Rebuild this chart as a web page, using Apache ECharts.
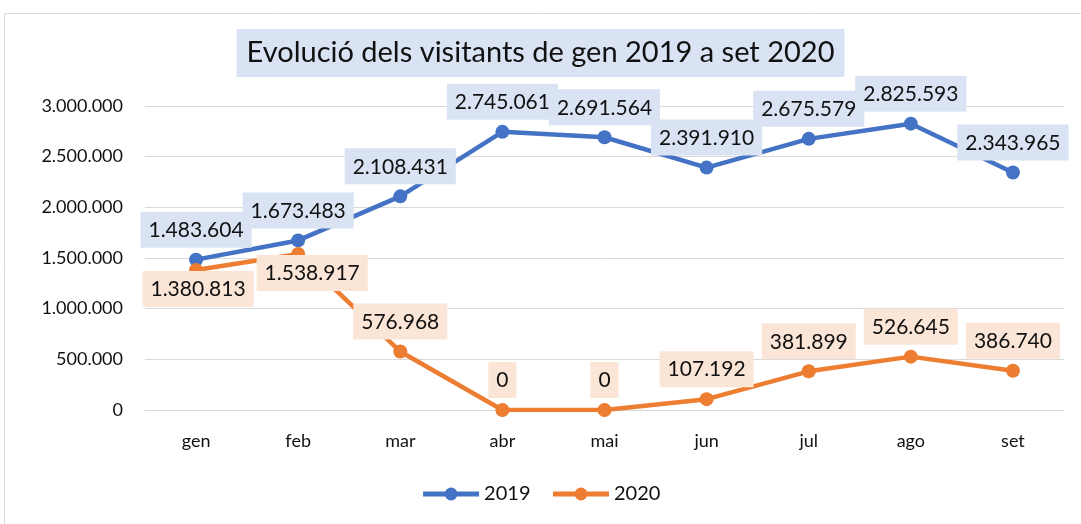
<!DOCTYPE html>
<html>
<head>
<meta charset="utf-8">
<script src="https://cdn.jsdelivr.net/npm/echarts@6/dist/echarts.min.js"></script>
<style>
  html, body { margin: 0; padding: 0; background: #fff; }
  #line_chart { width: 1081px; height: 524px; }
</style>
</head>
<body>
<div id="line_chart"></div>
<script>
var months = ['gen', 'feb', 'mar', 'abr', 'mai', 'jun', 'jul', 'ago', 'set'];
var visits2019 = [1483604, 1673483, 2108431, 2745061, 2691564, 2391910, 2675579, 2825593, 2343965];
var visits2020 = [1380813, 1538917, 576968, 0, 0, 107192, 381899, 526645, 386740];
var yTicks = [0, 500000, 1000000, 1500000, 2000000, 2500000, 3000000];

// separador de milers amb punt
function fmt(v) {
    return String(v).replace(/\B(?=(\d{3})+(?!\d))/g, '.');
}

var font = 'Lato, "Noto Sans", sans-serif';

function lbl(bg) {
    return {
        show: true,
        position: 'top',
        distance: 5,
        fontFamily: font,
        fontSize: 21,
        color: '#111',
        backgroundColor: bg,
        padding: [8, 8, 7, 8],
        formatter: function (p) { return fmt(p.value); }
    };
}

var chart = echarts.init(document.getElementById('line_chart'));
var option = {
    animation: false,
    textStyle: { fontFamily: font },
    graphic: [{
        type: 'rect',
        shape: { x: 4.5, y: 13.5, width: 1090, height: 530 },
        style: { fill: 'none', stroke: '#d9d9d9', lineWidth: 1 },
        silent: true
    }],
    title: {
        text: 'Evolució dels visitants de gen 2019 a set 2020',
        left: 'center',
        top: 29,
        padding: [9, 10, 10, 10],
        backgroundColor: '#dae3f3',
        textStyle: { fontFamily: font, fontSize: 29, fontWeight: 'normal', color: '#111' }
    },
    legend: {
        bottom: 15,
        left: 'center',
        itemWidth: 56,
        itemHeight: 16,
        itemGap: 20,
        lineStyle: { width: 5 },
        textStyle: { fontFamily: font, fontSize: 20, color: '#111' },
        data: ['2019', '2020']
    },
    grid: { left: 145, right: 17, top: 106, bottom: 114 },
    xAxis: {
        type: 'category',
        boundaryGap: true,
        data: months,
        axisLine: { lineStyle: { color: '#d9d9d9', width: 1 } },
        axisTick: { show: false },
        axisLabel: { margin: 22, fontSize: 18, color: '#111', fontFamily: font }
    },
    yAxis: {
        type: 'value',
        min: yTicks[0],
        max: yTicks[yTicks.length - 1],
        interval: yTicks[1] - yTicks[0],
        axisLine: { show: false },
        axisTick: { show: false },
        splitLine: { lineStyle: { color: '#d9d9d9', width: 1 } },
        axisLabel: { margin: 22, fontSize: 18, color: '#111', fontFamily: font, formatter: fmt }
    },
    series: [
        {
            name: '2019',
            type: 'line',
            symbol: 'circle',
            symbolSize: 14,
            lineStyle: { width: 4.5, color: '#4472c4' },
            itemStyle: { color: '#4472c4' },
            label: lbl('#dae3f3'),
            data: visits2019
        },
        {
            name: '2020',
            type: 'line',
            symbol: 'circle',
            symbolSize: 14,
            lineStyle: { width: 4.5, color: '#ed7d31' },
            itemStyle: { color: '#ed7d31' },
            label: lbl('#fbe5d6'),
            data: visits2020.map(function (v, i) {
                if (i < 2) {
                    return { value: v, label: { position: 'bottom', distance: -6, offset: [i === 1 ? 14 : 2, 0] } };
                }
                return v;
            })
        }
    ]
};
chart.setOption(option);
</script>
</body>
</html>
